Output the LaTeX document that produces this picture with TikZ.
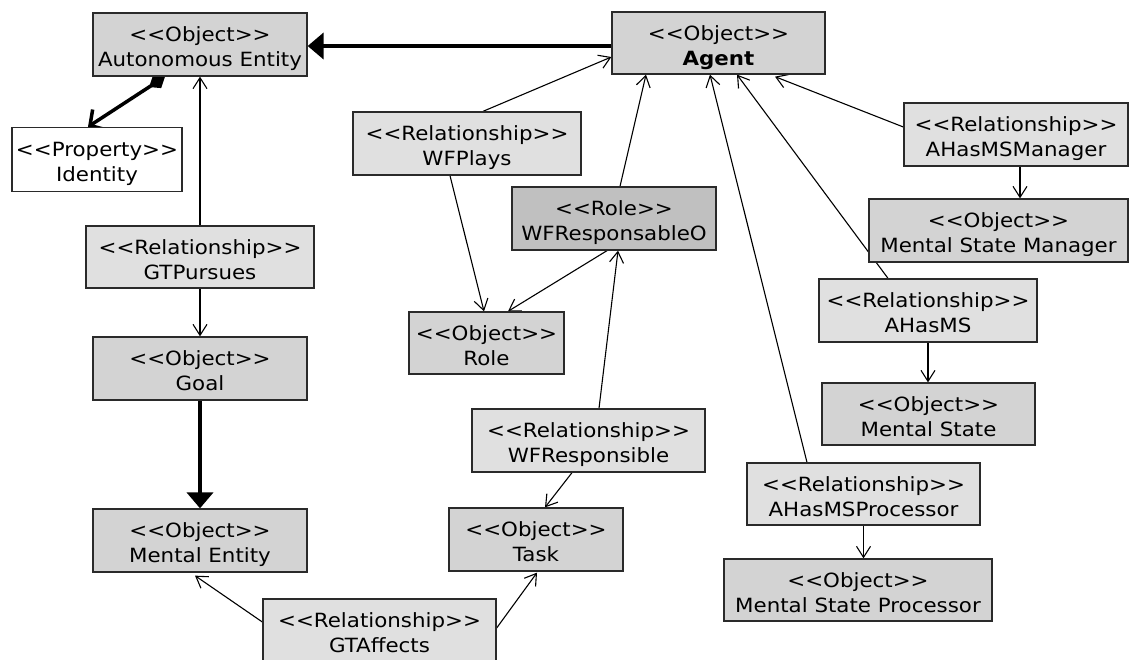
\documentclass[tikz,border=0pt]{standalone}
\usepackage{fontspec}
\setmainfont{DejaVu Sans}[FakeStretch=1.09]
\usetikzlibrary{arrows.meta,backgrounds}
\definecolor{objgray}{HTML}{D3D3D3}
\definecolor{relgray}{HTML}{E0E0E0}
\definecolor{rolegray}{HTML}{C0C0C0}
\definecolor{edgegray}{HTML}{2A2A2A}
\newcommand\stx[1]{<\kern0pt<#1>\kern0pt>}
\newcommand\mytwo[2]{\rule{0pt}{24.4pt}#1\\#2\rule[-5pt]{0pt}{5pt}}
\begin{document}
\begin{tikzpicture}[x=1pt,y=-1pt,
  box/.style={draw=edgegray, line width=1.3pt, inner sep=0pt, align=center, font=\fontsize{19.6}{25}\selectfont},
  obj/.style={box, fill=objgray},
  rel/.style={box, fill=relgray},
  rolebox/.style={box, fill=rolegray},
  prop/.style={box, fill=white},
  conn/.style={line width=1.1pt, -{Straight Barb[length=11pt,width=14pt]}},
  heavy/.style={line width=4pt, -{Triangle[length=16pt,width=26pt]}},
  compos/.style={line width=3.5pt, {Diamond[length=19pt,width=15pt]}-{Straight Barb[length=11pt,width=24pt]}},
]
\useasboundingbox (0,0) rectangle (1130,659);

% nodes
\node[obj, minimum width=214pt, minimum height=63pt] (AE) at (200,44.5) {\mytwo{\stx{Object}}{Autonomous Entity}};
\node[obj, minimum width=213pt, minimum height=62pt] (Agent) at (718.5,43) {\mytwo{\stx{Object}}{\textbf{Agent}}};
\node[prop, minimum width=170pt, minimum height=64pt] (Identity) at (97,159.5) {\mytwo{\stx{Property}}{Identity}};
\node[rel, minimum width=228pt, minimum height=63pt] (WFPlays) at (467,143.5) {\mytwo{\stx{Relationship}}{WFPlays}};
\node[rolebox, minimum width=204pt, minimum height=63pt] (WFRO) at (614,218.5) {\mytwo{\stx{Role}}{WFResponsableO}};
\node[obj, minimum width=155pt, minimum height=62pt] (Role) at (486.5,343) {\mytwo{\stx{Object}}{Role}};
\node[rel, minimum width=233pt, minimum height=63pt] (WFResp) at (588.5,440.5) {\mytwo{\stx{Relationship}}{WFResponsible}};
\node[obj, minimum width=174pt, minimum height=63pt] (Task) at (536,539.5) {\mytwo{\stx{Object}}{Task}};
\node[rel, minimum width=233pt, minimum height=63pt] (GTAff) at (379.5,630.5) {\mytwo{\stx{Relationship}}{GTAffects}};
\node[rel, minimum width=228pt, minimum height=62pt] (GTPur) at (200,257) {\mytwo{\stx{Relationship}}{GTPursues}};
\node[obj, minimum width=214pt, minimum height=63pt] (Goal) at (200,368.5) {\mytwo{\stx{Object}}{Goal}};
\node[obj, minimum width=214pt, minimum height=63pt] (ME) at (200,540.5) {\mytwo{\stx{Object}}{Mental Entity}};
\node[rel, minimum width=224pt, minimum height=63pt] (AHMSM) at (1016,134.5) {\mytwo{\stx{Relationship}}{AHasMSManager}};
\node[obj, minimum width=259pt, minimum height=63pt] (MSM) at (998.5,230.5) {\mytwo{\stx{Object}}{Mental State Manager}};
\node[rel, minimum width=218pt, minimum height=63pt] (AHMS) at (928,310.5) {\mytwo{\stx{Relationship}}{AHasMS}};
\node[obj, minimum width=213pt, minimum height=62pt] (MS) at (928.5,414) {\mytwo{\stx{Object}}{Mental State}};
\node[rel, minimum width=233pt, minimum height=62pt] (AHMSP) at (863.5,494) {\mytwo{\stx{Relationship}}{AHasMSProcessor}};
\node[obj, minimum width=268pt, minimum height=62pt] (MSP) at (858,590) {\mytwo{\stx{Object}}{Mental State Processor}};

% connectors
\begin{scope}[on background layer]
\fill[white] (0,0) rectangle (1130,659);
\draw[heavy] ([yshift=-3pt]Agent.west) -- ([yshift=-1.5pt]AE.east);
\draw[compos] ([xshift=-35pt]AE.south) -- ([xshift=-9pt]Identity.north);
\draw[conn] (GTPur.north) -- (AE.south);
\draw[conn] (GTPur.south) -- (Goal.north);
\draw[heavy] (Goal.south) -- (ME.north);
\draw[conn] ([xshift=16pt]WFPlays.north) -- ([yshift=-14pt]Agent.west);
\draw[conn] ([xshift=-17pt]WFPlays.south) -- ([xshift=-2.5pt]Role.north);
\draw[conn] ([xshift=6pt]WFRO.north) -- ([xshift=-72.5pt]Agent.south);
\draw[conn] ([xshift=-7pt]WFRO.south) -- ([xshift=21.5pt]Role.north);
\draw[conn] ([xshift=10.5pt]WFResp.north) -- ([xshift=4pt]WFRO.south);
\draw[conn] ([xshift=-16.5pt]WFResp.south) -- ([xshift=9pt]Task.north);
\draw[conn] ([xshift=-56.5pt]AHMSP.north) -- ([xshift=-8.5pt]Agent.south);
\draw[conn] ([xshift=-40pt]AHMS.north) -- ([xshift=18.5pt]Agent.south);
\draw[conn] ([yshift=7.5pt]AHMSM.west) -- ([xshift=56.5pt,yshift=-2pt]Agent.south);
\draw[conn] ([xshift=4pt]AHMSM.south) -- ([xshift=21.5pt]MSM.north);
\draw[conn] (AHMS.south) -- (AHMS.south |- MS.north);
\draw[conn] (AHMSP.south) -- (AHMSP.south |- MSP.north);
\draw[conn] ([yshift=8.5pt]GTAff.west) -- ([xshift=-5pt,yshift=-3pt]ME.south);
\draw[conn] ([yshift=2.5pt]GTAff.east) -- ([xshift=1pt,yshift=-1pt]Task.south);
\end{scope}
\end{tikzpicture}
\end{document}
